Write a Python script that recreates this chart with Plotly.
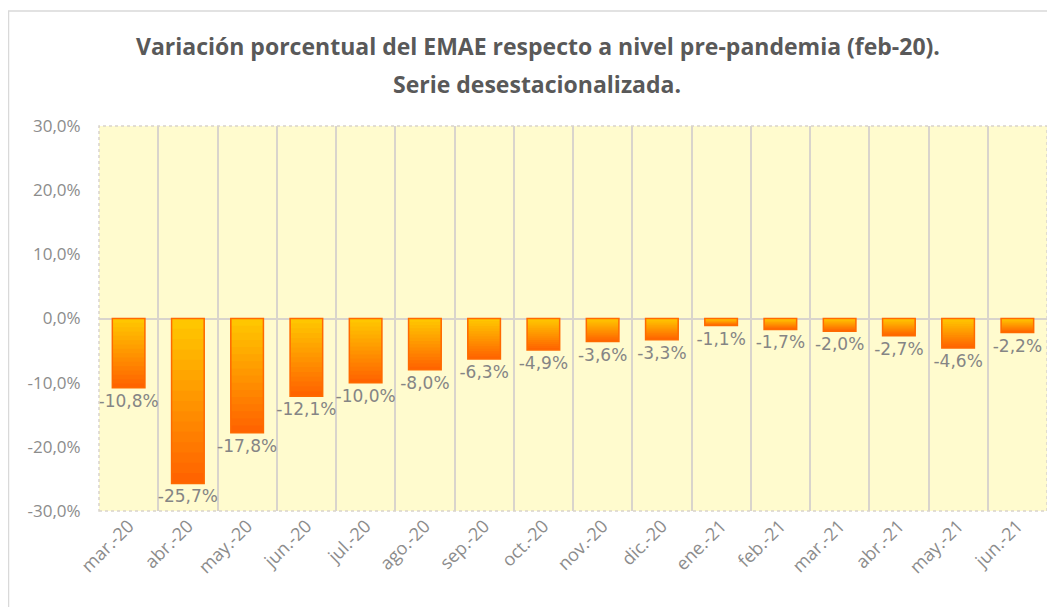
import plotly.graph_objects as go

categories = ["mar.-20", "abr.-20", "may.-20", "jun.-20", "jul.-20", "ago.-20", "sep.-20",
              "oct.-20", "nov.-20", "dic.-20", "ene.-21", "feb.-21", "mar.-21", "abr.-21",
              "may.-21", "jun.-21"]
values = [-10.8, -25.7, -17.8, -12.1, -10.0, -8.0, -6.3, -4.9, -3.6, -3.3, -1.1, -1.7,
          -2.0, -2.7, -4.6, -2.2]
y_tickvals = [-30, -20, -10, 0, 10, 20, 30]
y_ticktext = ["-30,0%", "-20,0%", "-10,0%", "0,0%", "10,0%", "20,0%", "30,0%"]
title_line1 = "Variación porcentual del EMAE respecto a nivel pre-pandemia (feb-20)."
title_line2 = "Serie desestacionalizada."

W, H = 1055, 607
OFF = 8  # page body margin
ml, mr, mt, mb = 91, 16, 118, 104
pw, ph = W - ml - mr, H - mt - mb

def px_x(sx):
    return (sx - OFF - ml) / pw

def px_y(sy):
    return (H - mb - (sy - OFF)) / ph

fig = go.Figure()

# gradient: stepwise overlay, orange at the bar end -> yellow near zero
N = 16
c_end = (255, 100, 0)
c_top = (255, 198, 0)
for k in range(N):
    frac = 1 - k / N
    t = k / (N - 1)
    col = tuple(round(c_end[i] + (c_top[i] - c_end[i]) * t) for i in range(3))
    fig.add_trace(go.Bar(
        x=categories, y=[v * frac for v in values],
        marker=dict(color="rgb(%d,%d,%d)" % col, line=dict(width=0)),
        hoverinfo="skip", showlegend=False,
    ))

# outline + labels
labels = [("%.1f%%" % v).replace(".", ",") for v in values]
fig.add_trace(go.Bar(
    x=categories, y=values, text=labels,
    marker=dict(color="rgba(0,0,0,0)", line=dict(color="#FF6A00", width=1.5)),
    texttemplate="%{text}", textposition="outside", constraintext="none",
    textfont=dict(family="DejaVu Sans, sans-serif", size=17, color="#858585"),
    cliponaxis=False, showlegend=False,
))

fig.update_layout(
    width=W, height=H,
    margin=dict(l=ml, r=mr, t=mt, b=mb, autoexpand=False),
    barmode="overlay", bargap=0.45,
    paper_bgcolor="white", plot_bgcolor="#FFFBCE",
    font=dict(family="Open Sans, sans-serif", color="#808080"),
)

fig.update_xaxes(
    type="category", tickson="boundaries", showgrid=True, gridcolor="#D9D4CC", gridwidth=1.5,
    ticks="outside", ticklen=4, tickcolor="rgba(0,0,0,0)", tickangle=-45,
    tickfont=dict(size=18, color="#8C8C8C"),
    showline=False, zeroline=False, automargin=False,
)
fig.update_yaxes(
    range=[-30, 30], tickvals=y_tickvals, ticktext=y_ticktext,
    showgrid=False, zeroline=True, zerolinecolor="#D9D4CC", zerolinewidth=1.5,
    tickfont=dict(size=17, color="#8C8C8C"), ticks="outside", ticklen=14,
    tickcolor="rgba(0,0,0,0)", automargin=False,
)

# plot-area dotted border and chart border
fig.add_shape(type="rect", xref="paper", yref="paper", x0=0, x1=1, y0=0, y1=1,
              line=dict(color="#D9D4CC", width=1.5, dash="dot"), layer="above")
fig.add_shape(type="rect", xref="paper", yref="paper",
              x0=px_x(8.5), x1=px_x(1080), y0=px_y(640), y1=px_y(11),
              line=dict(color="#D9D9D9", width=1.5))

fig.add_annotation(text="<b>" + title_line1 + "</b>", xref="paper", yref="paper",
                   x=px_x(538), y=px_y(46), showarrow=False, yanchor="middle",
                   font=dict(family="Open Sans, sans-serif", size=23, color="#595959"))
fig.add_annotation(text="<b>" + title_line2 + "</b>", xref="paper", yref="paper",
                   x=px_x(537), y=px_y(84), showarrow=False, yanchor="middle",
                   font=dict(family="Open Sans, sans-serif", size=23, color="#595959"))

fig.write_html("out.html")
